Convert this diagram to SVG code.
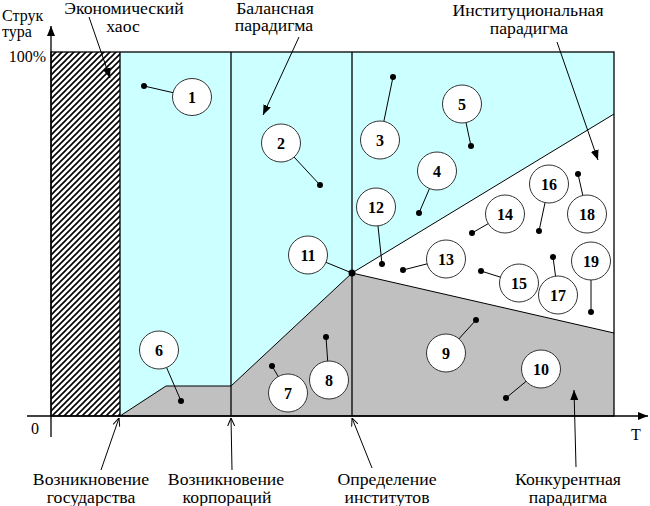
<svg xmlns="http://www.w3.org/2000/svg" width="650" height="506" viewBox="0 0 650 506">
<style>
.lbl{font-family:"Liberation Serif","Times New Roman",serif;font-size:17.7px;fill:#000;text-anchor:middle}
.ax{font-family:"Liberation Serif","Times New Roman",serif;font-size:16px;fill:#000}
.num{font-family:"Liberation Serif","Times New Roman",serif;font-size:16px;font-weight:bold;fill:#000;text-anchor:middle}
.circ{fill:#fff;stroke:#333;stroke-width:1}
.lead{stroke:#000;stroke-width:1;fill:none}
.dot{fill:#000}
.ptr{stroke:#000;stroke-width:1;fill:none}
</style>
<defs>
<pattern id="hatch" patternUnits="userSpaceOnUse" width="6" height="6">
<rect width="6" height="6" fill="#fff"/>
<path d="M-1,7 L7,-1 M-4,4 L4,-4 M2,10 L10,2" stroke="#000" stroke-width="1.6"/>
</pattern>
<marker id="fa" viewBox="0 0 10 8" refX="10" refY="4" markerWidth="10" markerHeight="8" markerUnits="userSpaceOnUse" orient="auto">
<path d="M0,0 L10,4 L0,8 z" fill="#000"/>
</marker>
<marker id="oa" viewBox="0 0 8 8" refX="8" refY="4" markerWidth="8" markerHeight="8" markerUnits="userSpaceOnUse" orient="auto">
<path d="M0,0.5 L8,4 L0,7.5" fill="none" stroke="#000" stroke-width="1"/>
</marker>
</defs>

<g id="regions">
<rect x="120" y="52" width="494" height="364" fill="#ccffff"/>
<rect x="51" y="52" width="69" height="364" fill="url(#hatch)"/>
<polygon points="352,273 614,114 614,333" fill="#fff"/>
<polygon points="120,416 166,386 231,386 352,273 614,333 614,416" fill="#c0c0c0"/>
<polyline points="120,416 166,386 231,386 352,273 614,333" fill="none" stroke="#000" stroke-width="1"/>
<line x1="352" y1="273" x2="614" y2="114" stroke="#000" stroke-width="1"/>
<rect x="51" y="52" width="563" height="364" fill="none" stroke="#000" stroke-width="1.3"/>
<line x1="120" y1="52" x2="120" y2="416" stroke="#000" stroke-width="1.3"/>
<line x1="231" y1="52" x2="231" y2="416" stroke="#000" stroke-width="1.3"/>
<line x1="352" y1="52" x2="352" y2="416" stroke="#000" stroke-width="1.3"/>
</g>

<g id="axes">
<line x1="51" y1="437" x2="51" y2="26" stroke="#000" stroke-width="1.3" marker-end="url(#fa)"/>
<line x1="27" y1="416" x2="648" y2="416" stroke="#000" stroke-width="1.3" marker-end="url(#fa)"/>
<text class="ax" x="2" y="21">Струк</text>
<text class="ax" x="2" y="37">тура</text>
<text class="ax" x="46" y="62" text-anchor="end">100%</text>
<text class="ax" x="31" y="434">0</text>
<text class="ax" x="631" y="440">T</text>
</g>

<g id="labels">
<text class="lbl" x="124" y="14">Экономический</text>
<text class="lbl" x="123" y="32">хаос</text>
<text class="lbl" x="275" y="14">Балансная</text>
<text class="lbl" x="274" y="31">парадигма</text>
<text class="lbl" x="528" y="16">Институциональная</text>
<text class="lbl" x="529" y="34">парадигма</text>
<text class="lbl" x="91" y="485">Возникновение</text>
<text class="lbl" x="91" y="503">государства</text>
<text class="lbl" x="226" y="485">Возникновение</text>
<text class="lbl" x="227" y="503">корпораций</text>
<text class="lbl" x="387" y="485">Определение</text>
<text class="lbl" x="387" y="503">институтов</text>
<text class="lbl" x="568" y="485">Конкурентная</text>
<text class="lbl" x="568" y="503">парадигма</text>
</g>

<g id="connectors">
<line class="ptr" x1="89" y1="17" x2="110" y2="78" marker-end="url(#fa)"/>
<line class="ptr" x1="299" y1="37" x2="263" y2="115" marker-end="url(#fa)"/>
<line class="ptr" x1="557" y1="42" x2="598" y2="160" marker-end="url(#fa)"/>
<line class="ptr" x1="576" y1="467" x2="574" y2="390" marker-end="url(#fa)"/>
<line class="ptr" x1="101" y1="470" x2="119" y2="418" marker-end="url(#oa)"/>
<line class="ptr" x1="232" y1="470" x2="231" y2="418" marker-end="url(#oa)"/>
<line class="ptr" x1="372" y1="468" x2="352" y2="418" marker-end="url(#oa)"/>

<line class="lead" x1="144" y1="86" x2="192" y2="97"/>
<line class="lead" x1="320" y1="185" x2="281" y2="143"/>
<line class="lead" x1="393" y1="77" x2="380" y2="140"/>
<line class="lead" x1="419" y1="213" x2="437" y2="171"/>
<line class="lead" x1="471" y1="146" x2="462" y2="104"/>
<line class="lead" x1="181" y1="401" x2="159" y2="350"/>
<line class="lead" x1="272" y1="366" x2="288" y2="393"/>
<line class="lead" x1="326" y1="337" x2="329" y2="380"/>
<line class="lead" x1="476" y1="320" x2="446" y2="353"/>
<line class="lead" x1="506" y1="398" x2="541" y2="369"/>
<line class="lead" x1="352" y1="273" x2="308" y2="255"/>
<line class="lead" x1="382" y1="264" x2="376" y2="207"/>
<line class="lead" x1="403" y1="270" x2="446" y2="259"/>
<line class="lead" x1="472" y1="233" x2="505" y2="214"/>
<line class="lead" x1="481" y1="271" x2="519" y2="283"/>
<line class="lead" x1="539" y1="231" x2="549" y2="184"/>
<line class="lead" x1="553" y1="257" x2="558" y2="295"/>
<line class="lead" x1="578" y1="174" x2="587" y2="214"/>
<line class="lead" x1="591" y1="312" x2="591" y2="261"/>

<circle class="dot" cx="144" cy="86" r="3"/>
<circle class="dot" cx="320" cy="185" r="3"/>
<circle class="dot" cx="393" cy="77" r="3"/>
<circle class="dot" cx="419" cy="213" r="3"/>
<circle class="dot" cx="471" cy="146" r="3"/>
<circle class="dot" cx="181" cy="401" r="3"/>
<circle class="dot" cx="272" cy="366" r="3"/>
<circle class="dot" cx="326" cy="337" r="3"/>
<circle class="dot" cx="476" cy="320" r="3"/>
<circle class="dot" cx="506" cy="398" r="3"/>
<circle class="dot" cx="352" cy="273" r="3.5"/>
<circle class="dot" cx="382" cy="264" r="3"/>
<circle class="dot" cx="403" cy="270" r="3"/>
<circle class="dot" cx="472" cy="233" r="3"/>
<circle class="dot" cx="481" cy="271" r="3"/>
<circle class="dot" cx="539" cy="231" r="3"/>
<circle class="dot" cx="553" cy="257" r="3"/>
<circle class="dot" cx="578" cy="174" r="3"/>
<circle class="dot" cx="591" cy="312" r="3"/>
</g>

<g id="n1"><ellipse class="circ" cx="192" cy="97" rx="19.5" ry="18.5"/><text class="num" x="192" y="103">1</text></g>
<g id="n2"><ellipse class="circ" cx="281" cy="143" rx="19.5" ry="19"/><text class="num" x="281" y="149">2</text></g>
<g id="n3"><ellipse class="circ" cx="380" cy="140" rx="19.5" ry="19"/><text class="num" x="380" y="146">3</text></g>
<g id="n4"><ellipse class="circ" cx="437" cy="171" rx="19.5" ry="19"/><text class="num" x="437" y="177">4</text></g>
<g id="n5"><ellipse class="circ" cx="462" cy="104" rx="19.5" ry="19"/><text class="num" x="462" y="110">5</text></g>
<g id="n6"><ellipse class="circ" cx="159" cy="350" rx="19.5" ry="19"/><text class="num" x="159" y="356">6</text></g>
<g id="n7"><ellipse class="circ" cx="288" cy="393" rx="19.5" ry="19"/><text class="num" x="288" y="399">7</text></g>
<g id="n8"><ellipse class="circ" cx="329" cy="380" rx="19.5" ry="19"/><text class="num" x="329" y="386">8</text></g>
<g id="n9"><ellipse class="circ" cx="446" cy="353" rx="19.5" ry="19"/><text class="num" x="446" y="359">9</text></g>
<g id="n10"><ellipse class="circ" cx="541" cy="369" rx="19.5" ry="19"/><text class="num" x="541" y="375">10</text></g>
<g id="n11"><ellipse class="circ" cx="308" cy="255" rx="19.5" ry="19"/><text class="num" x="308" y="261">11</text></g>
<g id="n12"><ellipse class="circ" cx="376" cy="207" rx="19.5" ry="19"/><text class="num" x="376" y="213">12</text></g>
<g id="n13"><ellipse class="circ" cx="446" cy="259" rx="19.5" ry="19"/><text class="num" x="446" y="265">13</text></g>
<g id="n14"><ellipse class="circ" cx="505" cy="214" rx="19.5" ry="19"/><text class="num" x="505" y="220">14</text></g>
<g id="n15"><ellipse class="circ" cx="519" cy="283" rx="19.5" ry="19"/><text class="num" x="519" y="289">15</text></g>
<g id="n16"><ellipse class="circ" cx="549" cy="184" rx="19.5" ry="19"/><text class="num" x="549" y="190">16</text></g>
<g id="n17"><ellipse class="circ" cx="558" cy="295" rx="19.5" ry="19"/><text class="num" x="558" y="301">17</text></g>
<g id="n18"><ellipse class="circ" cx="587" cy="214" rx="19.5" ry="19"/><text class="num" x="587" y="220">18</text></g>
<g id="n19"><ellipse class="circ" cx="591" cy="261" rx="19.5" ry="19"/><text class="num" x="591" y="267">19</text></g>
</svg>
